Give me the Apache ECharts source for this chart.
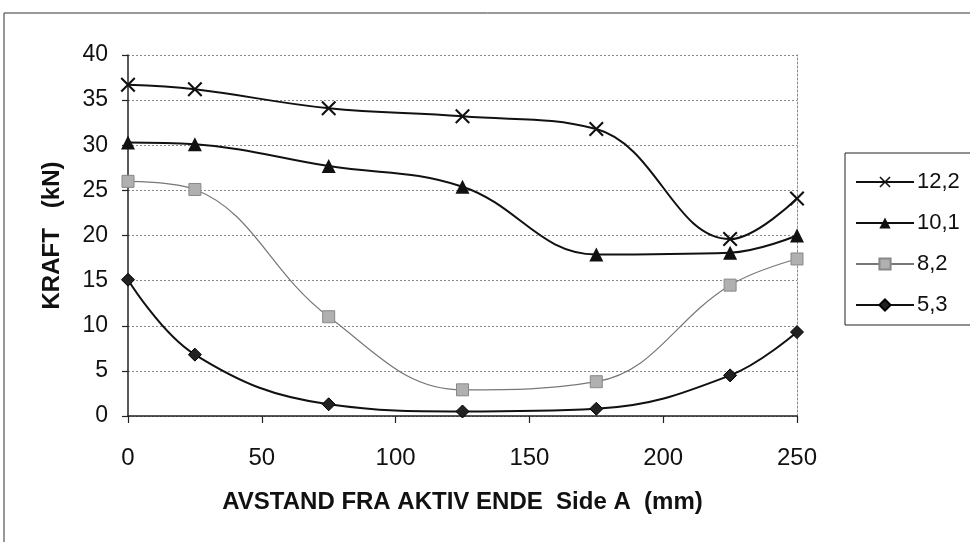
<!DOCTYPE html>
<html>
<head>
<meta charset="utf-8">
<script src="https://cdn.jsdelivr.net/npm/echarts@6/dist/echarts.min.js"></script>
<style>html,body{margin:0;padding:0;background:#fff}#c{width:970px;height:542px}</style>
</head>
<body>
<div id="c"></div>
<script>
const xValues = [0, 25, 75, 125, 175, 225, 250];
const seriesNames = ['12,2', '10,1', '8,2', '5,3'];
const s122 = [36.7, 36.2, 34.1, 33.2, 31.8, 19.6, 24.1];
const s101 = [30.3, 30.1, 27.7, 25.4, 17.9, 18.1, 20.0];
const s82  = [26.0, 25.1, 11.0, 2.9, 3.8, 14.5, 17.4];
const s53  = [15.1, 6.8, 1.3, 0.5, 0.8, 4.5, 9.3];
const xTitle = 'AVSTAND FRA AKTIV ENDE  Side A  (mm)';
const yTitle = 'KRAFT   (kN)';

const pair = arr => xValues.map((x, i) => [x, arr[i]]);
const FONT = 'Liberation Sans, Arial, sans-serif';
const crossPath = 'path://M0,1L1,0L5,4L9,0L10,1L6,5L10,9L9,10L5,6L1,10L0,9L4,5Z';

const chart = echarts.init(document.getElementById('c'), null, {renderer: 'canvas'});
chart.setOption({
  animation: false,
  backgroundColor: '#fff',
  grid: {left: 128, right: 173, top: 55, bottom: 126},
  graphic: [
    {type: 'rect', shape: {x: 4, y: 13, width: 1000, height: 600}, style: {fill: 'none', stroke: '#333', lineWidth: 1}, z: -1},
    {type: 'rect', shape: {x: 845, y: 153, width: 200, height: 172}, style: {fill: 'none', stroke: '#222', lineWidth: 1}, z: -1}
  ],
  legend: {
    orient: 'vertical', left: 850, top: 166,
    itemWidth: 58, itemHeight: 14, itemGap: 19,
    textStyle: {fontFamily: FONT, fontSize: 22, color: '#111', padding: [0, 0, 0, -2]},
    data: seriesNames
  },
  xAxis: {
    type: 'value', min: 0, max: 250, interval: 50,
    name: xTitle, nameLocation: 'middle', nameGap: 74,
    nameTextStyle: {fontFamily: FONT, fontSize: 24, fontWeight: 'bold', color: '#111'},
    axisLine: {show: true, onZero: false, lineStyle: {color: '#222', width: 1.5}},
    axisTick: {show: true, length: 7, lineStyle: {color: '#222', width: 1.2}},
    axisLabel: {fontFamily: FONT, fontSize: 24, color: '#111', margin: 30},
    splitLine: {show: false}
  },
  yAxis: [{
    type: 'value', min: 0, max: 40, interval: 5,
    name: yTitle, nameLocation: 'middle', nameGap: 64, nameRotate: 90,
    nameTextStyle: {fontFamily: FONT, fontSize: 24, fontWeight: 'bold', color: '#111'},
    axisLine: {show: true, lineStyle: {color: '#222', width: 1.5}},
    axisTick: {show: true, length: 6, lineStyle: {color: '#222', width: 1.2}},
    axisLabel: {fontFamily: FONT, fontSize: 23, color: '#111', margin: 20},
    splitLine: {show: true, lineStyle: {color: '#888', width: 1, type: [2, 2]}}
  }, {
    type: 'value', min: 0, max: 40, interval: 5, position: 'right',
    axisLine: {show: true, lineStyle: {color: '#888', width: 1, type: [2, 2]}},
    axisTick: {show: false}, axisLabel: {show: false}, splitLine: {show: false}
  }],
  series: [
    {name: '12,2', type: 'line', smooth: 0.4, data: pair(s122),
      symbol: crossPath, symbolSize: 15,
      lineStyle: {color: '#111', width: 2}, itemStyle: {color: '#111'}},
    {name: '10,1', type: 'line', smooth: 0.4, data: pair(s101),
      symbol: 'triangle', symbolSize: 14,
      lineStyle: {color: '#111', width: 2}, itemStyle: {color: '#111'}},
    {name: '8,2', type: 'line', smooth: 0.4, data: pair(s82),
      symbol: 'rect', symbolSize: 12,
      lineStyle: {color: '#777', width: 1.2}, itemStyle: {color: '#b0b0b0', borderColor: '#888', borderWidth: 1}},
    {name: '5,3', type: 'line', smooth: 0.4, data: pair(s53),
      symbol: 'diamond', symbolSize: 13,
      lineStyle: {color: '#111', width: 2}, itemStyle: {color: '#222', borderColor: '#000', borderWidth: 1}}
  ]
});
</script>
</body>
</html>
